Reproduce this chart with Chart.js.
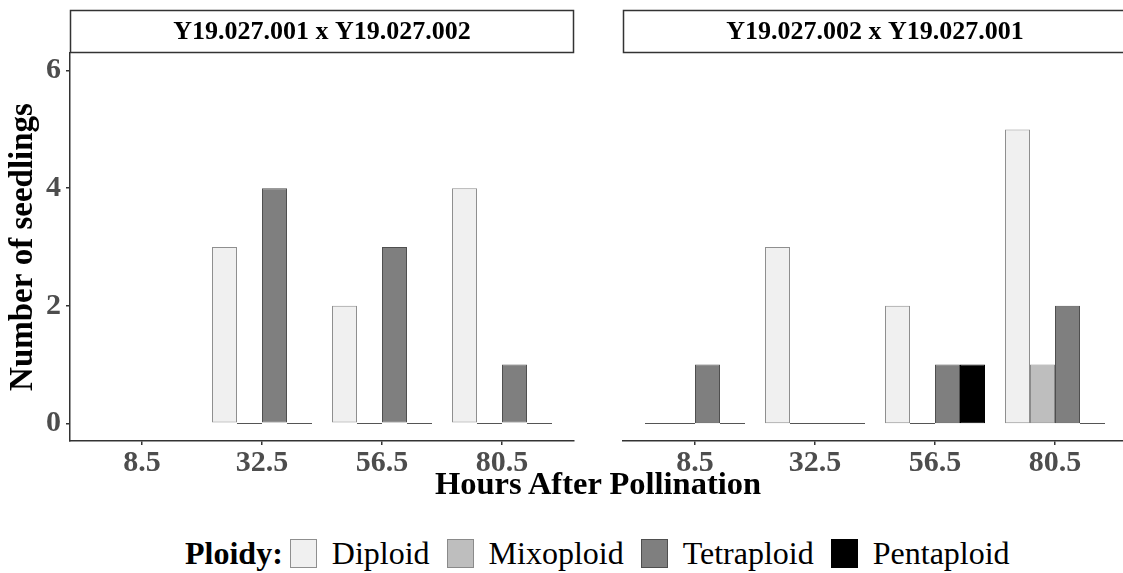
<!DOCTYPE html>
<html>
<head>
<meta charset="utf-8">
<script src="https://cdn.jsdelivr.net/npm/chart.js@4.4.1/dist/chart.umd.min.js"></script>
<style>
  html, body { margin: 0; padding: 0; background: #fff; }
  body { width: 1123px; height: 573px; overflow: hidden; position: relative; font-family: "Liberation Serif", "Times New Roman", serif; }
  canvas { position: absolute; top: 0; }
  #left { left: 0; }
  #right { left: 600px; }
  #xtitle { position: absolute; left: 0; width: 1196px; top: 467px; text-align: center; font-weight: bold; font-size: 32.5px; line-height: 33px; color: #000; }
  #legend { position: absolute; left: 185px; top: 537px; height: 32px; display: flex; align-items: center; font-size: 32px; line-height: 32px; color: #000; }
  #legend .ttl { font-weight: bold; margin-right: 7px; }
  #legend .box { width: 27px; height: 29px; box-sizing: border-box; border: 1px solid #999; margin-right: 15px; }
  #legend .lab { margin-right: 17px; }
</style>
</head>
<body>
<canvas id="left" width="600" height="490"></canvas>
<canvas id="right" width="530" height="490"></canvas>
<div id="xtitle">Hours After Pollination</div>
<div id="legend"></div>
<script>
// Hours after pollination (x categories) and their tick labels
const hours = [8.5, 32.5, 56.5, 80.5];
const hourLabels = ['8.5', '32.5', '56.5', '80.5'];

// Ploidy classes
const ploidy = ['Diploid', 'Mixoploid', 'Tetraploid', 'Pentaploid'];
const fills = ['#f0f0f0', '#bebebe', '#7f7f7f', '#000000'];
const edges = ['#8f8f8f', '#8a8a8a', '#4f4f4f', '#000000'];

// Number of seedlings per cross (null = no seedlings recorded at that time)
// Cross Y19.027.001 x Y19.027.002
const crossA = 'Y19.027.001 x Y19.027.002';
const aDiploid    = [null, 3, 2, 4];
const aMixoploid  = [null, 0, 0, 0];
const aTetraploid = [null, 4, 3, 1];
const aPentaploid = [null, 0, 0, 0];
// Cross Y19.027.002 x Y19.027.001
const crossB = 'Y19.027.002 x Y19.027.001';
const bDiploid    = [0, 3, 2, 5];
const bMixoploid  = [0, 0, 0, 1];
const bTetraploid = [1, 0, 1, 2];
const bPentaploid = [0, 0, 1, 0];

const yTicks = [0, 2, 4, 6];

const FONT = '"Liberation Serif", "Times New Roman", serif';
const AXIS = '#333333';

function makeDatasets(series) {
  return series.map((vals, k) => ({
    label: ploidy[k],
    data: hours.map((h, i) => ({ x: h, y: vals[i] })),
    backgroundColor: fills[k],
    borderColor: edges[k],
    borderWidth: 1,
    borderSkipped: false,
    categoryPercentage: 100 / 120,
    barPercentage: 1
  }));
}

// Draws zero-count bars as a flat line on the baseline
const zeroBars = {
  id: 'zeroBars',
  afterDatasetsDraw(chart) {
    const ctx = chart.ctx;
    ctx.save();
    ctx.strokeStyle = '#555555';
    ctx.lineWidth = 1;
    chart.data.datasets.forEach((ds, di) => {
      const meta = chart.getDatasetMeta(di);
      meta.data.forEach((el, i) => {
        const v = ds.data[i].y;
        if (v === 0) {
          const y = Math.round(el.y) + 0.5;
          ctx.beginPath();
          ctx.moveTo(el.x - el.width / 2, y);
          ctx.lineTo(el.x + el.width / 2, y);
          ctx.stroke();
        }
      });
    });
    ctx.restore();
  }
};

// Facet strip above each panel
const strip = {
  id: 'strip',
  afterDraw(chart, args, opts) {
    const { ctx, chartArea } = chart;
    const top = 10.5, bottom = 52.5;
    ctx.save();
    ctx.fillStyle = '#ffffff';
    ctx.fillRect(chartArea.left, top, chartArea.right - chartArea.left, bottom - top);
    ctx.strokeStyle = AXIS;
    ctx.lineWidth = 1.5;
    ctx.strokeRect(chartArea.left + 0.5, top, chartArea.right - chartArea.left - 1, bottom - top);
    ctx.fillStyle = '#000';
    ctx.font = 'bold 26px ' + FONT;
    ctx.textAlign = 'center';
    ctx.textBaseline = 'middle';
    ctx.fillText(opts.text, (chartArea.left + chartArea.right) / 2, (top + bottom) / 2 + 1);
    ctx.restore();
  }
};

function makeChart(id, series, title, showY, padding) {
  return new Chart(document.getElementById(id), {
    type: 'bar',
    data: { datasets: makeDatasets(series) },
    options: {
      responsive: false,
      animation: false,
      devicePixelRatio: 1,
      layout: { padding: padding },
      plugins: {
        legend: { display: false },
        tooltip: { enabled: false },
        strip: { text: title }
      },
      scales: {
        x: {
          type: 'linear',
          offset: false,
          min: hours[0] - 0.6 * 24,
          max: hours[hours.length - 1] + 0.6 * 24,
          afterBuildTicks: s => { s.ticks = hours.map(v => ({ value: v })); },
          afterFit: s => { s.height = 49; },
          grid: { display: true, offset: false, drawOnChartArea: false, drawTicks: true, tickLength: 4, color: AXIS, lineWidth: 1.5 },
          border: { display: true, color: AXIS, width: 1.5 },
          ticks: {
            padding: 0,
            color: '#4d4d4d',
            font: { family: FONT, size: 30, weight: 'bold' },
            callback: v => hourLabels[hours.indexOf(v)]
          }
        },
        y: {
          display: showY,
          min: -0.3,
          max: 6.3,
          afterBuildTicks: s => { s.ticks = yTicks.map(v => ({ value: v })); },
          afterFit: s => { s.width = showY ? 70 : 0; },
          grid: { display: true, drawOnChartArea: false, drawTicks: true, tickLength: 4, color: AXIS, lineWidth: 1.5 },
          border: { display: true, color: AXIS, width: 1.5 },
          ticks: {
            padding: 5,
            color: '#4d4d4d',
            font: { family: FONT, size: 30, weight: 'bold' }
          },
          title: {
            display: true,
            text: 'Number of seedlings',
            color: '#000',
            padding: { top: 4, bottom: 0 },
            font: { family: FONT, size: 33, weight: 'bold' }
          }
        }
      }
    },
    plugins: [zeroBars, strip]
  });
}

makeChart('left', [aDiploid, aMixoploid, aTetraploid, aPentaploid], crossA, true,
  { top: 53, right: 26, bottom: 0, left: 0 });
makeChart('right', [bDiploid, bMixoploid, bTetraploid, bPentaploid], crossB, false,
  { top: 53, right: 3, bottom: 0, left: 23 });

// Legend built from the ploidy classes
const legend = document.getElementById('legend');
const ttl = document.createElement('span');
ttl.className = 'ttl';
ttl.textContent = 'Ploidy:';
legend.appendChild(ttl);
ploidy.forEach((name, k) => {
  const box = document.createElement('span');
  box.className = 'box';
  box.style.background = fills[k];
  box.style.borderColor = k === 3 ? '#000' : edges[k];
  legend.appendChild(box);
  const lab = document.createElement('span');
  lab.className = 'lab';
  lab.textContent = name;
  legend.appendChild(lab);
});
</script>
</body>
</html>
